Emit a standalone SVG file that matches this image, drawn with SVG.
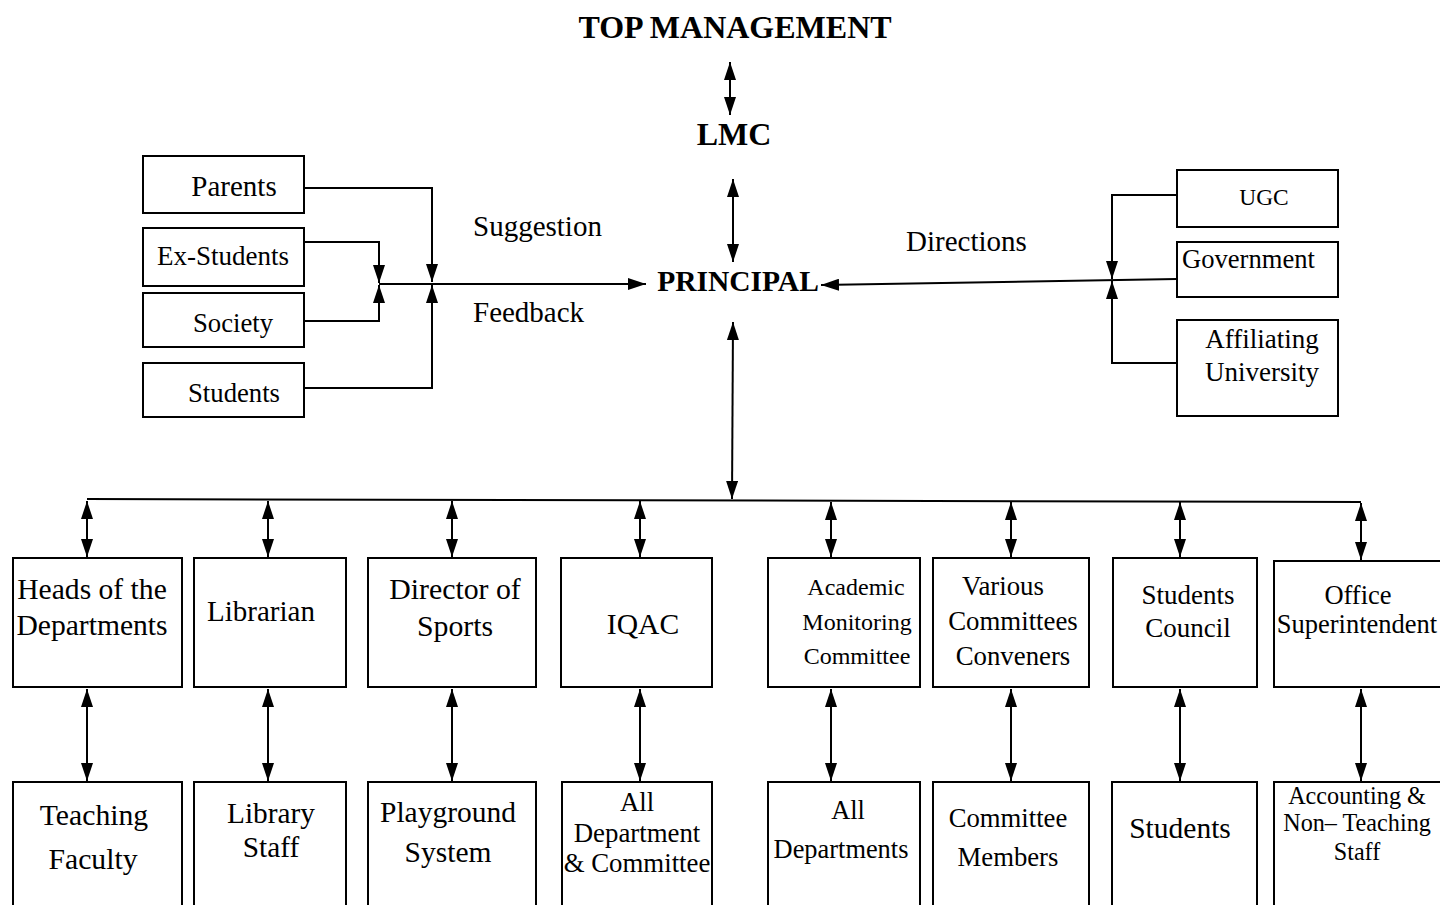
<svg xmlns="http://www.w3.org/2000/svg" width="1440" height="905" viewBox="0 0 1440 905">
<defs>
<marker id="ah" markerUnits="userSpaceOnUse" markerWidth="18" markerHeight="12" refX="18" refY="6" orient="auto-start-reverse">
<path d="M0,0 L18,6 L0,12 z" fill="#000"/>
</marker>
<style>
text{font-family:"Liberation Serif","Times New Roman",serif;fill:#000;}
.b{font-weight:bold;}
.box{fill:#fff;stroke:#000;stroke-width:2;}
.c{fill:none;stroke:#000;stroke-width:2;}
.m{text-anchor:middle;}
</style>
</defs>
<rect width="1440" height="905" fill="#fff"/>

<g id="connectors">
<path class="c" d="M730,62 V115" marker-start="url(#ah)" marker-end="url(#ah)"/>
<path class="c" d="M733,179 V262" marker-start="url(#ah)" marker-end="url(#ah)"/>
<path class="c" d="M733,322 L732,499" marker-start="url(#ah)" marker-end="url(#ah)"/>
<path class="c" d="M304,188 H432 V282" marker-end="url(#ah)"/>
<path class="c" d="M304,388 H432 V285" marker-end="url(#ah)"/>
<path class="c" d="M304,242 H379 V283" marker-end="url(#ah)"/>
<path class="c" d="M304,321 H379 V285" marker-end="url(#ah)"/>
<path class="c" d="M379,284 H646" marker-end="url(#ah)"/>
<path class="c" d="M1177,195 H1112 V279" marker-end="url(#ah)"/>
<path class="c" d="M1177,363 H1112 V281" marker-end="url(#ah)"/>
<path class="c" d="M1177,279 L821,285" marker-end="url(#ah)"/>
<path class="c" d="M87,499 L1361,502"/>
<path class="c" d="M87,501 V557" marker-start="url(#ah)" marker-end="url(#ah)"/>
<path class="c" d="M268,501 V557" marker-start="url(#ah)" marker-end="url(#ah)"/>
<path class="c" d="M452,501 V557" marker-start="url(#ah)" marker-end="url(#ah)"/>
<path class="c" d="M640,501 V557" marker-start="url(#ah)" marker-end="url(#ah)"/>
<path class="c" d="M831,502 V557" marker-start="url(#ah)" marker-end="url(#ah)"/>
<path class="c" d="M1011,502 V557" marker-start="url(#ah)" marker-end="url(#ah)"/>
<path class="c" d="M1180,502 V557" marker-start="url(#ah)" marker-end="url(#ah)"/>
<path class="c" d="M1361,503 V560" marker-start="url(#ah)" marker-end="url(#ah)"/>
<path class="c" d="M87,689 V781" marker-start="url(#ah)" marker-end="url(#ah)"/>
<path class="c" d="M268,689 V781" marker-start="url(#ah)" marker-end="url(#ah)"/>
<path class="c" d="M452,689 V781" marker-start="url(#ah)" marker-end="url(#ah)"/>
<path class="c" d="M640,689 V781" marker-start="url(#ah)" marker-end="url(#ah)"/>
<path class="c" d="M831,689 V781" marker-start="url(#ah)" marker-end="url(#ah)"/>
<path class="c" d="M1011,689 V781" marker-start="url(#ah)" marker-end="url(#ah)"/>
<path class="c" d="M1180,689 V781" marker-start="url(#ah)" marker-end="url(#ah)"/>
<path class="c" d="M1361,689 V781" marker-start="url(#ah)" marker-end="url(#ah)"/>
</g>

<g id="top"><text class="b m" x="735" y="38" font-size="32">TOP MANAGEMENT</text></g>
<g id="lmc"><text class="b m" x="734" y="145" font-size="32">LMC</text></g>
<g id="principal"><text class="b m" x="738" y="291" font-size="29.5">PRINCIPAL</text></g>

<g id="labels">
<text x="473" y="236" font-size="29">Suggestion</text>
<text x="473" y="322" font-size="29">Feedback</text>
<text x="906" y="251" font-size="29">Directions</text>
</g>

<g id="parents"><rect class="box" x="143" y="156" width="161" height="57"/><text class="m" x="234" y="196" font-size="29">Parents</text></g>
<g id="exstudents"><rect class="box" x="143" y="228" width="161" height="58"/><text class="m" x="223" y="265" font-size="27">Ex-Students</text></g>
<g id="society"><rect class="box" x="143" y="293" width="161" height="54"/><text class="m" x="233" y="332" font-size="26.7">Society</text></g>
<g id="students-left"><rect class="box" x="143" y="363" width="161" height="54"/><text class="m" x="234" y="402" font-size="26.7">Students</text></g>

<g id="ugc"><rect class="box" x="1177" y="170" width="161" height="57"/><text class="m" x="1264" y="205" font-size="23.4">UGC</text></g>
<g id="government"><rect class="box" x="1177" y="242" width="161" height="55"/><text x="1182" y="268" font-size="26.6">Government</text></g>
<g id="affiliating"><rect class="box" x="1177" y="320" width="161" height="96"/><text class="m" x="1262" y="348" font-size="27">Affiliating</text><text class="m" x="1262" y="381" font-size="27">University</text></g>

<g id="hod"><rect class="box" x="13" y="558" width="169" height="129"/><text class="m" x="92" y="599" font-size="29.6">Heads of the</text><text class="m" x="92" y="635" font-size="29.6">Departments</text></g>
<g id="librarian"><rect class="box" x="194" y="558" width="152" height="129"/><text class="m" x="261" y="621" font-size="29">Librarian</text></g>
<g id="director"><rect class="box" x="368" y="558" width="168" height="129"/><text class="m" x="455" y="599" font-size="29.8">Director of</text><text class="m" x="455" y="636" font-size="29.8">Sports</text></g>
<g id="iqac"><rect class="box" x="561" y="558" width="151" height="129"/><text class="m" x="643" y="634" font-size="29.6">IQAC</text></g>
<g id="amc"><rect class="box" x="768" y="558" width="152" height="129"/><text class="m" x="856" y="595" font-size="24">Academic</text><text class="m" x="857" y="630" font-size="24">Monitoring</text><text class="m" x="857" y="664" font-size="24">Committee</text></g>
<g id="vcc"><rect class="box" x="933" y="558" width="156" height="129"/><text class="m" x="1003" y="595" font-size="26.8">Various</text><text class="m" x="1013" y="630" font-size="26.8">Committees</text><text class="m" x="1013" y="665" font-size="26.8">Conveners</text></g>
<g id="council"><rect class="box" x="1113" y="558" width="144" height="129"/><text class="m" x="1188" y="604" font-size="27">Students</text><text class="m" x="1188" y="637" font-size="27">Council</text></g>
<g id="office"><rect class="box" x="1274" y="561" width="180" height="126"/><text class="m" x="1358" y="604" font-size="26.5">Office</text><text class="m" x="1357" y="633" font-size="26.5">Superintendent</text></g>

<g id="teaching"><rect class="box" x="13" y="782" width="169" height="140"/><text class="m" x="94" y="825" font-size="29.7">Teaching</text><text class="m" x="93" y="869" font-size="29.7">Faculty</text></g>
<g id="libstaff"><rect class="box" x="194" y="782" width="152" height="140"/><text class="m" x="271" y="823" font-size="29.3">Library</text><text class="m" x="271" y="857" font-size="29.3">Staff</text></g>
<g id="playground"><rect class="box" x="368" y="782" width="168" height="140"/><text class="m" x="448" y="822" font-size="29.5">Playground</text><text class="m" x="448" y="862" font-size="29.5">System</text></g>
<g id="alldeptcomm"><rect class="box" x="562" y="782" width="150" height="140"/><text class="m" x="637" y="811" font-size="26.8">All</text><text class="m" x="637" y="842" font-size="26.8">Department</text><text class="m" x="637" y="872" font-size="26.8">&amp; Committee</text></g>
<g id="alldepts"><rect class="box" x="768" y="782" width="152" height="140"/><text class="m" x="848" y="819" font-size="26.4">All</text><text class="m" x="841" y="858" font-size="26.4">Departments</text></g>
<g id="members"><rect class="box" x="933" y="782" width="156" height="140"/><text class="m" x="1008" y="827" font-size="26.7">Committee</text><text class="m" x="1008" y="866" font-size="26.7">Members</text></g>
<g id="students-bottom"><rect class="box" x="1112" y="782" width="145" height="140"/><text class="m" x="1180" y="838" font-size="29.5">Students</text></g>
<g id="accounting"><rect class="box" x="1274" y="782" width="180" height="140"/><text class="m" x="1357" y="804" font-size="24.2">Accounting &amp;</text><text class="m" x="1357" y="831" font-size="24.2">Non– Teaching</text><text class="m" x="1357" y="860" font-size="24.2">Staff</text></g>
</svg>
